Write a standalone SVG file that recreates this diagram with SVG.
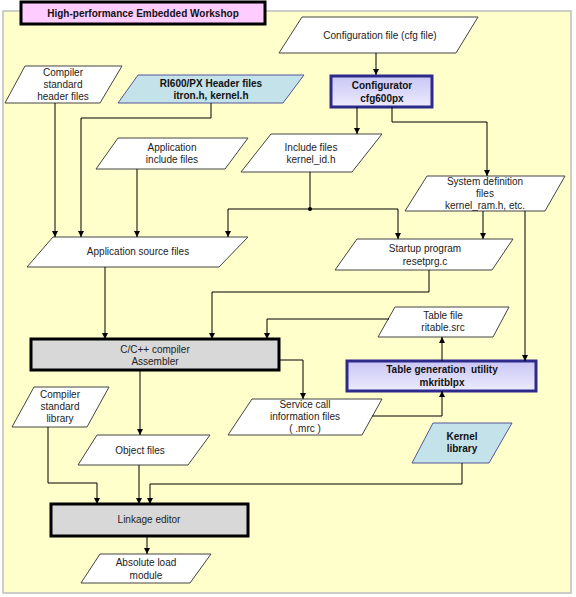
<svg xmlns="http://www.w3.org/2000/svg" width="576" height="597" viewBox="0 0 576 597">
<defs>
<linearGradient id="lav" x1="0" y1="0" x2="0" y2="1">
<stop offset="0" stop-color="#C9C6F5"/>
<stop offset="1" stop-color="#ECEBFC"/>
</linearGradient>
<marker id="ah" viewBox="0 0 10 10" refX="10" refY="5" markerWidth="6" markerHeight="6" orient="auto" markerUnits="userSpaceOnUse">
<path d="M0,0 L10,5 L0,10 z" fill="#000"/>
</marker>
</defs>
<style>
text{font-family:"Liberation Sans",Arial,sans-serif;font-size:10px;fill:#222;text-anchor:middle}
.b{font-weight:bold;fill:#111}
.pre{white-space:pre}
.para{fill:#fff;stroke:#444;stroke-width:1}
.blue{fill:#C4E2EA;stroke:#55559A;stroke-width:1}
.proc{fill:url(#lav);stroke:#2E2A8C;stroke-width:3}
.gray{fill:#D8D8D8;stroke:#000;stroke-width:3}
.c{fill:none;stroke:#000;stroke-width:1}
.ar{marker-end:url(#ah)}
</style>
<rect x="3" y="11" width="568" height="582" fill="#FFFFCC" stroke="#BDBDBD" stroke-width="1.5"/>
<g id="title">
<rect x="21" y="2" width="244" height="22" fill="#FFCCFF" stroke="#000" stroke-width="3"/>
<text class="b" x="143" y="17">High-performance Embedded Workshop</text>
</g>
<g id="cfgfile">
<polygon class="para" points="302,17 478,17 456,53 279,53"/>
<text x="380" y="39">Configuration file (cfg file)</text>
</g>
<g id="configurator">
<rect class="proc" x="331" y="76" width="101" height="31"/>
<text class="b" x="382" y="89">Configurator</text>
<text class="b" x="382" y="102">cfg600px</text>
</g>
<g id="stdheader">
<polygon class="para" points="25,66 122,66 100,103 5,103"/>
<text x="63" y="76">Compiler</text>
<text x="63" y="88">standard</text>
<text x="63" y="100">header files</text>
</g>
<g id="riheader">
<polygon class="blue" points="138,75 304,75 283,103 118,103"/>
<text class="b" x="211" y="87">RI600/PX Header files</text>
<text class="b" x="211" y="99">itron.h, kernel.h</text>
</g>
<g id="appinclude">
<polygon class="para" points="118,138 248,138 225,169 96,169"/>
<text x="172" y="151">Application</text>
<text x="172" y="163">include files</text>
</g>
<g id="include">
<polygon class="para" points="271,134 382,134 352,172 241,172"/>
<text x="311" y="151">Include files</text>
<text x="311" y="163">kernel_id.h</text>
</g>
<g id="sysdef">
<polygon class="para" points="427,176 565,176 545,211 405,211"/>
<text x="485" y="185">System definition</text>
<text x="485" y="197">files</text>
<text x="485" y="209">kernel_ram.h, etc.</text>
</g>
<g id="appsource">
<polygon class="para" points="53,237 248,237 219,267 27,267"/>
<text x="138" y="255">Application source files</text>
</g>
<g id="startup">
<polygon class="para" points="357,239 513,239 492,270 335,270"/>
<text x="425" y="252">Startup program</text>
<text x="425" y="265">resetprg.c</text>
</g>
<g id="tablefile">
<polygon class="para" points="395,307 509,307 493,337 378,337"/>
<text x="443" y="319">Table file</text>
<text x="443" y="331">ritable.src</text>
</g>
<g id="compiler">
<rect class="gray" x="31" y="339" width="248" height="31"/>
<text x="155" y="353">C/C++ compiler</text>
<text x="155" y="365">Assembler</text>
</g>
<g id="tablegen">
<rect class="proc" x="347" y="361" width="189" height="30"/>
<text class="b pre" x="442" y="373" xml:space="preserve">Table generation  utility</text>
<text class="b" x="442" y="386">mkritblpx</text>
</g>
<g id="stdlib">
<polygon class="para" points="34,387 109,387 87,427 12,427"/>
<text x="60" y="398">Compiler</text>
<text x="60" y="410">standard</text>
<text x="60" y="422">library</text>
</g>
<g id="servicecall">
<polygon class="para" points="252,399 382,399 362,435 228,435"/>
<text x="305" y="408">Service call</text>
<text x="305" y="420">information files</text>
<text x="305" y="432">( .mrc )</text>
</g>
<g id="objfiles">
<polygon class="para" points="97,435 210,435 188,465 78,465"/>
<text x="140" y="454">Object files</text>
</g>
<g id="kernellib">
<polygon class="blue" points="433,423 512,423 489,463 412,463"/>
<text class="b" x="462" y="440">Kernel</text>
<text class="b" x="462" y="452">library</text>
</g>
<g id="linkage">
<rect class="gray" x="51" y="504" width="197" height="32"/>
<text x="149" y="523">Linkage editor</text>
</g>
<g id="absolute">
<polygon class="para" points="100,554 211,554 190,583 81,583"/>
<text x="146" y="566">Absolute load</text>
<text x="146" y="579">module</text>
</g>
<g id="connectors">
<path class="c ar" d="M376,53 V75"/>
<path class="c ar" d="M357,107 V134"/>
<path class="c ar" d="M392,107 V122 H487 V176"/>
<path class="c ar" d="M55,103 V237"/>
<path class="c ar" d="M211,103 V118 H81 V237"/>
<path class="c ar" d="M137,169 V237"/>
<path class="c" d="M310,172 V209"/>
<path class="c ar" d="M310,209 H228 V237"/>
<path class="c ar" d="M310,209 H398 V239"/>
<circle cx="310" cy="209" r="2" fill="#000"/>
<path class="c ar" d="M483,211 V239"/>
<path class="c ar" d="M525,211 V361"/>
<path class="c ar" d="M105,267 V339"/>
<path class="c ar" d="M429,270 V292 H212 V339"/>
<path class="c ar" d="M389,319 H267 V339"/>
<path class="c ar" d="M442,361 V337"/>
<path class="c ar" d="M279,360 H303 V399"/>
<path class="c ar" d="M372,416 H442 V391"/>
<path class="c ar" d="M140,370 V435"/>
<path class="c ar" d="M48,427 V483 H97 V504"/>
<path class="c ar" d="M139,465 V504"/>
<path class="c ar" d="M462,463 V484 H150 V504"/>
<path class="c ar" d="M147,536 V554"/>
</g>
</svg>
